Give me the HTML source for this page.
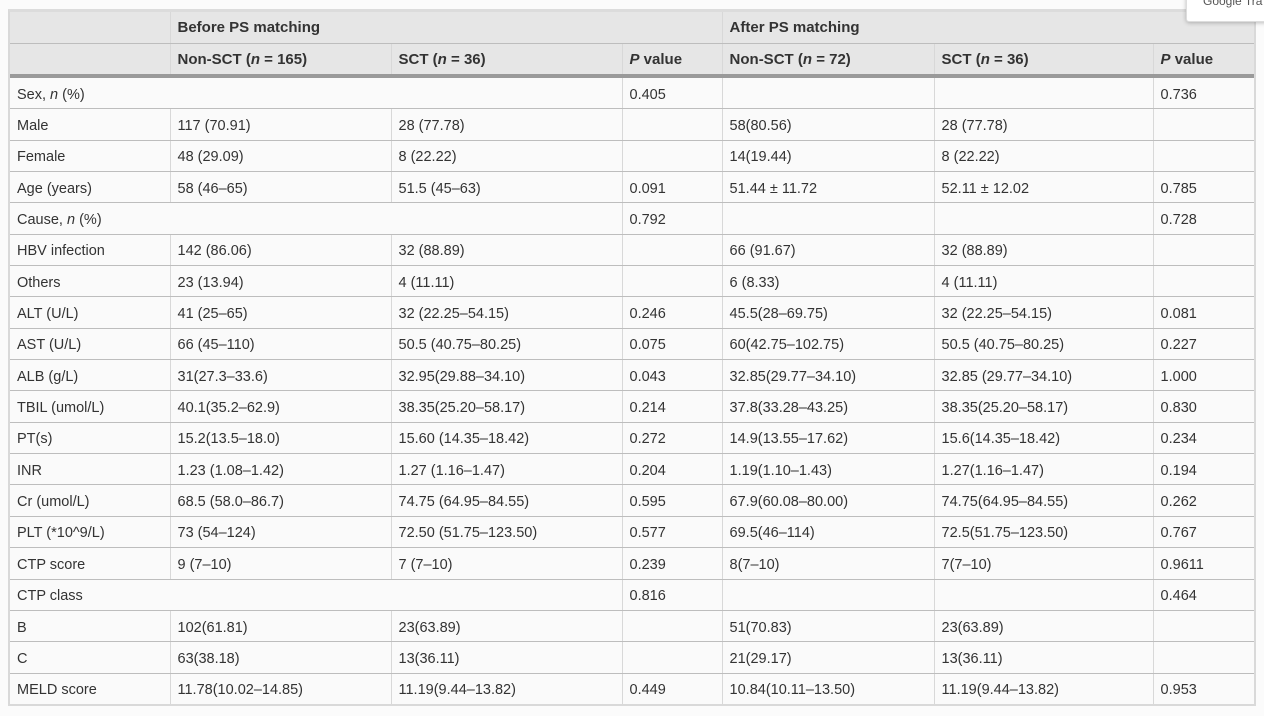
<!DOCTYPE html>
<html><head><meta charset="utf-8"><style>
body{margin:0;width:1264px;height:716px;background:#fbfbfb;font-family:"Liberation Sans",sans-serif;color:#333;overflow:hidden;position:relative}
.wrap{position:absolute;left:8px;top:9px;width:1244px;border:2px solid #d9d9d9;border-top:3px solid #dcdcdc;background:#fafafa}
table{border-collapse:collapse;table-layout:fixed;width:1244px;font-size:14.5px}
td,th{padding:0 7px;text-align:left;white-space:nowrap;overflow:hidden;border-left:1px solid #d8d8d8}
td:first-child,th:first-child{border-left:none}
th{background:#e6e6e6;font-weight:bold;height:31px;border-bottom:1px solid #bdbdbd;font-size:15px}
tr.h2 th{border-bottom:4px solid #9a9a9a;height:30px}
td{height:27.35px;padding-top:3px;border-bottom:1px solid #bdbdbd;font-weight:normal}
tr:last-child td{border-bottom:none}
.gt{position:absolute;left:1186px;top:-6px;width:90px;height:28px;background:#fff;border:1px solid #ddd;border-radius:3px;box-shadow:0 1px 4px rgba(0,0,0,.25);font-size:12px;color:#555;padding:0 0 0 16px;box-sizing:border-box;line-height:12px}
</style></head><body>
<div class="wrap"><table>
<colgroup><col style="width:160px"><col style="width:221px"><col style="width:231px"><col style="width:100px"><col style="width:212px"><col style="width:219px"><col style="width:101px"></colgroup>
<tr><th></th><th colspan="3">Before PS matching</th><th colspan="3">After PS matching</th></tr>
<tr class="h2"><th></th><th>Non-SCT (<i>n</i> = 165)</th><th>SCT (<i>n</i> = 36)</th><th><i>P</i> value</th><th>Non-SCT (<i>n</i> = 72)</th><th>SCT (<i>n</i> = 36)</th><th><i>P</i> value</th></tr>
<tr><td colspan="3">Sex, <i>n</i> (%)</td><td>0.405</td><td></td><td></td><td>0.736</td></tr>
<tr><td>Male</td><td>117 (70.91)</td><td>28 (77.78)</td><td></td><td>58(80.56)</td><td>28 (77.78)</td><td></td></tr>
<tr><td>Female</td><td>48 (29.09)</td><td>8 (22.22)</td><td></td><td>14(19.44)</td><td>8 (22.22)</td><td></td></tr>
<tr><td>Age (years)</td><td>58 (46–65)</td><td>51.5 (45–63)</td><td>0.091</td><td>51.44 ± 11.72</td><td>52.11 ± 12.02</td><td>0.785</td></tr>
<tr><td colspan="3">Cause, <i>n</i> (%)</td><td>0.792</td><td></td><td></td><td>0.728</td></tr>
<tr><td>HBV infection</td><td>142 (86.06)</td><td>32 (88.89)</td><td></td><td>66 (91.67)</td><td>32 (88.89)</td><td></td></tr>
<tr><td>Others</td><td>23 (13.94)</td><td>4 (11.11)</td><td></td><td>6 (8.33)</td><td>4 (11.11)</td><td></td></tr>
<tr><td>ALT (U/L)</td><td>41 (25–65)</td><td>32 (22.25–54.15)</td><td>0.246</td><td>45.5(28–69.75)</td><td>32 (22.25–54.15)</td><td>0.081</td></tr>
<tr><td>AST (U/L)</td><td>66 (45–110)</td><td>50.5 (40.75–80.25)</td><td>0.075</td><td>60(42.75–102.75)</td><td>50.5 (40.75–80.25)</td><td>0.227</td></tr>
<tr><td>ALB (g/L)</td><td>31(27.3–33.6)</td><td>32.95(29.88–34.10)</td><td>0.043</td><td>32.85(29.77–34.10)</td><td>32.85 (29.77–34.10)</td><td>1.000</td></tr>
<tr><td>TBIL (umol/L)</td><td>40.1(35.2–62.9)</td><td>38.35(25.20–58.17)</td><td>0.214</td><td>37.8(33.28–43.25)</td><td>38.35(25.20–58.17)</td><td>0.830</td></tr>
<tr><td>PT(s)</td><td>15.2(13.5–18.0)</td><td>15.60 (14.35–18.42)</td><td>0.272</td><td>14.9(13.55–17.62)</td><td>15.6(14.35–18.42)</td><td>0.234</td></tr>
<tr><td>INR</td><td>1.23 (1.08–1.42)</td><td>1.27 (1.16–1.47)</td><td>0.204</td><td>1.19(1.10–1.43)</td><td>1.27(1.16–1.47)</td><td>0.194</td></tr>
<tr><td>Cr (umol/L)</td><td>68.5 (58.0–86.7)</td><td>74.75 (64.95–84.55)</td><td>0.595</td><td>67.9(60.08–80.00)</td><td>74.75(64.95–84.55)</td><td>0.262</td></tr>
<tr><td>PLT (*10^9/L)</td><td>73 (54–124)</td><td>72.50 (51.75–123.50)</td><td>0.577</td><td>69.5(46–114)</td><td>72.5(51.75–123.50)</td><td>0.767</td></tr>
<tr><td>CTP score</td><td>9 (7–10)</td><td>7 (7–10)</td><td>0.239</td><td>8(7–10)</td><td>7(7–10)</td><td>0.9611</td></tr>
<tr><td colspan="3">CTP class</td><td>0.816</td><td></td><td></td><td>0.464</td></tr>
<tr><td>B</td><td>102(61.81)</td><td>23(63.89)</td><td></td><td>51(70.83)</td><td>23(63.89)</td><td></td></tr>
<tr><td>C</td><td>63(38.18)</td><td>13(36.11)</td><td></td><td>21(29.17)</td><td>13(36.11)</td><td></td></tr>
<tr><td>MELD score</td><td>11.78(10.02–14.85)</td><td>11.19(9.44–13.82)</td><td>0.449</td><td>10.84(10.11–13.50)</td><td>11.19(9.44–13.82)</td><td>0.953</td></tr>
</table></div>
<div class="gt">Google Tra</div>
</body></html>
